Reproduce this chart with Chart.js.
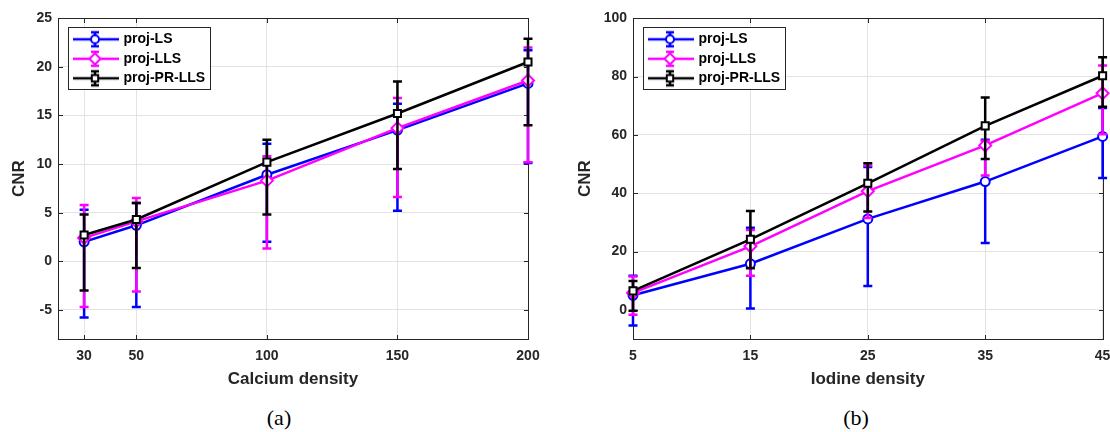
<!DOCTYPE html>
<html>
<head>
<meta charset="utf-8">
<script src="https://cdn.jsdelivr.net/npm/chart.js@4.4.0/dist/chart.umd.min.js"></script>
<style>
html,body{margin:0;padding:0;background:#fff;overflow:hidden;width:1110px;height:432px;}
canvas{position:absolute;top:0;}
.cap{position:absolute;top:405px;line-height:26px;font-family:'Liberation Serif','DejaVu Serif',serif;font-size:22px;color:#000;transform:translateX(-50%);}
</style>
</head>
<body>
<canvas id="chartA" width="555" height="400" style="left:0"></canvas>
<canvas id="chartB" width="565" height="400" style="left:555px"></canvas>
<div class="cap" style="left:279px">(a)</div>
<div class="cap" style="left:856px">(b)</div>
<script>
// series shared by both panels
var seriesNames=['proj-LS','proj-LLS','proj-PR-LLS'];
var seriesColors=['#0000ff','#ff00ff','#000000'];
var markerStyles=['circle','rectRot','rect'];
var markerRadius=[4.5,6,5];

// (a) calcium
var calciumX=[30,50,100,150,200];
var calciumTicksX=[30,50,100,150,200];
var calciumTicksY=[-5,0,5,10,15,20,25];
var calLS=[2.0,3.7,8.9,13.5,18.3];
var calLSLow=[-5.8,-4.7,2.0,5.2,10.1];
var calLSHigh=[5.3,6.0,12.1,16.2,21.7];
var calLLS=[2.4,4.1,8.3,13.7,18.6];
var calLLSLow=[-4.7,-3.1,1.3,6.6,10.2];
var calLLSHigh=[5.8,6.5,10.8,16.8,22.0];
var calPR=[2.7,4.3,10.2,15.2,20.5];
var calPRLow=[-3.0,-0.7,4.8,9.5,14.0];
var calPRHigh=[4.8,6.0,12.5,18.5,22.9];

// (b) iodine
var iodineX=[5,15,25,35,45];
var iodineTicksX=[5,15,25,35,45];
var iodineTicksY=[0,20,40,60,80,100];
var iodLS=[5.0,15.8,31.2,44.0,59.5];
var iodLSLow=[-5.4,0.5,8.2,22.9,45.2];
var iodLSHigh=[11.7,28.2,49.0,58.3,69.2];
var iodLLS=[5.8,21.8,40.7,56.4,74.3];
var iodLLSLow=[-1.7,11.7,31.5,46.1,60.2];
var iodLLSHigh=[11.4,27.4,49.5,58.0,83.8];
var iodPR=[6.5,24.2,43.4,63.1,80.3];
var iodPRLow=[-0.3,14.3,33.7,51.7,69.7];
var iodPRHigh=[9.9,33.9,50.3,72.8,86.6];

var textColor='#262626';
var gridColor='#e3e3e3';
var fontFamily="'Liberation Sans', Arial, sans-serif";
var lineW=2.5;
Chart.defaults.font.family=fontFamily;

// legend glyph: line + error bar + marker
function makeIcon(s)
{
    var c=document.createElement('canvas');
    c.width=60; c.height=20;
    var g=c.getContext('2d');
    g.strokeStyle=seriesColors[s];
    g.lineWidth=lineW;
    g.beginPath(); g.moveTo(13,10); g.lineTo(59,10); g.stroke();
    g.beginPath();
    g.moveTo(35,3); g.lineTo(35,17);
    g.moveTo(31,3); g.lineTo(39,3);
    g.moveTo(31,17); g.lineTo(39,17);
    g.stroke();
    g.fillStyle='#fff';
    g.lineWidth=2;
    Chart.helpers.drawPoint(g,{pointStyle:markerStyles[s],radius:markerRadius[s]-0.5,borderWidth:2,rotation:0},35,10);
    return c;
}
var legendIcons=[makeIcon(0),makeIcon(1),makeIcon(2)];

var errorBars={
    id:'errorBars',
    beforeDatasetDraw:function(chart,args){
        var ds=chart.data.datasets[args.index];
        var y=chart.scales.y;
        var ctx=chart.ctx;
        ctx.save();
        ctx.strokeStyle=ds.borderColor;
        ctx.lineWidth=lineW;
        args.meta.data.forEach(function(pt,i){
            var top=y.getPixelForValue(ds.errHigh[i]);
            var bot=y.getPixelForValue(ds.errLow[i]);
            ctx.beginPath();
            ctx.moveTo(pt.x,top); ctx.lineTo(pt.x,bot);
            ctx.moveTo(pt.x-4.5,top); ctx.lineTo(pt.x+4.5,top);
            ctx.moveTo(pt.x-4.5,bot); ctx.lineTo(pt.x+4.5,bot);
            ctx.stroke();
        });
        ctx.restore();
    }
};

var axesFrame={
    id:'axesFrame',
    beforeDatasetsDraw:function(chart){
        var a=chart.chartArea, ctx=chart.ctx, x=chart.scales.x, y=chart.scales.y;
        var L=Math.round(a.left)+0.5, R=Math.round(a.right)+0.5, T=Math.round(a.top)+0.5, B=Math.round(a.bottom)+0.5;
        ctx.save();
        ctx.strokeStyle=textColor;
        ctx.lineWidth=1;
        ctx.strokeRect(L,T,R-L,B-T);
        ctx.beginPath();
        x.ticks.forEach(function(t){
            var px=Math.round(x.getPixelForValue(t.value))+0.5;
            ctx.moveTo(px,B); ctx.lineTo(px,B-4.5);
            ctx.moveTo(px,T); ctx.lineTo(px,T+4.5);
        });
        y.ticks.forEach(function(t){
            var py=Math.round(y.getPixelForValue(t.value))+0.5;
            ctx.moveTo(L,py); ctx.lineTo(L+4.5,py);
            ctx.moveTo(R,py); ctx.lineTo(R-4.5,py);
        });
        ctx.stroke();
        ctx.restore();
    }
};

var legendBox={
    id:'legendBox',
    afterDatasetsDraw:function(chart){
        var lg=chart.legend, a=chart.chartArea, ctx=chart.ctx;
        ctx.save();
        ctx.font='bold 14px '+fontFamily;
        var tw=0;
        lg.legendItems.forEach(function(it){ tw=Math.max(tw,ctx.measureText(it.text).width); });
        var left=Math.round(a.left+10)+0.5, top=Math.round(a.top+8.4)+0.5;
        var w=Math.round(tw+60.5), h=62;
        ctx.fillStyle='#fff';
        ctx.fillRect(left,top,w,h);
        ctx.strokeStyle=textColor;
        ctx.lineWidth=1;
        ctx.strokeRect(left,top,w,h);
        ctx.restore();
        lg.draw();
    }
};

function buildDatasets(xs,vals,lows,highs)
{
    return vals.map(function(v,s){
        return {
            label:seriesNames[s],
            data:xs.map(function(x,i){ return {x:x,y:v[i]}; }),
            errLow:lows[s],
            errHigh:highs[s],
            borderColor:seriesColors[s],
            backgroundColor:'#fff',
            borderWidth:lineW,
            pointStyle:markerStyles[s],
            pointRadius:markerRadius[s],
            pointBorderWidth:2,
            pointBackgroundColor:'#fff',
            pointBorderColor:seriesColors[s],
            tension:0,
            clip:false,
            order:2-s
        };
    });
}

function makeChart(id,datasets,cfg)
{
    return new Chart(id,{
        type:'line',
        data:{datasets:datasets},
        plugins:[errorBars,axesFrame,legendBox],
        options:{
            responsive:false,
            animation:false,
            events:[],
            layout:{padding:{left:0,top:18.3,right:cfg.padRight,bottom:0}},
            scales:{
                x:{
                    type:'linear',
                    min:cfg.xMin,max:cfg.xMax,
                    afterBuildTicks:function(s){ s.ticks=cfg.xTicks.map(function(v){ return {value:v}; }); },
                    afterFit:function(s){ s.height=61; },
                    grid:{color:gridColor,drawTicks:false,lineWidth:1},
                    border:{display:false},
                    ticks:{padding:9,color:textColor,font:{size:14,weight:'bold'}},
                    title:{display:true,text:cfg.xTitle,color:textColor,font:{size:17,weight:'bold'},padding:{top:0,bottom:10.5}}
                },
                y:{
                    type:'linear',
                    min:cfg.yMin,max:cfg.yMax,
                    afterBuildTicks:function(s){ s.ticks=cfg.yTicks.map(function(v){ return {value:v}; }); },
                    afterFit:function(s){ s.width=cfg.yWidth; },
                    grid:{color:gridColor,drawTicks:false,lineWidth:1},
                    border:{display:false},
                    ticks:{padding:6,color:textColor,font:{size:14,weight:'bold'}},
                    title:{display:true,text:'CNR',color:textColor,font:{size:17,weight:'bold'},padding:{top:cfg.yTitlePad,bottom:0}}
                }
            },
            plugins:{
                tooltip:{enabled:false},
                legend:{
                    position:'chartArea',
                    align:'start',
                    // legend rows start at the canvas top here, so the empty title pushes them down
                    title:{display:true,text:'',padding:{top:18.3,bottom:0},font:{size:8.5,lineHeight:1}},
                    labels:{
                        usePointStyle:true,
                        pointStyleWidth:53,
                        padding:5.5,
                        color:'#000',
                        font:{size:14,weight:'bold'},
                        sort:function(a,b){ return a.datasetIndex-b.datasetIndex; },
                        generateLabels:function(chart){
                            return Chart.defaults.plugins.legend.labels.generateLabels(chart).map(function(it){
                                it.pointStyle=legendIcons[it.datasetIndex];
                                return it;
                            });
                        }
                    }
                }
            }
        }
    });
}

makeChart('chartA',
    buildDatasets(calciumX,[calLS,calLLS,calPR],[calLSLow,calLLSLow,calPRLow],[calLSHigh,calLLSHigh,calPRHigh]),
    {xMin:20,xMax:200,xTicks:calciumTicksX,yMin:-8,yMax:25,yTicks:calciumTicksY,xTitle:'Calcium density',yWidth:58,yTitlePad:9.5,padRight:27});

makeChart('chartB',
    buildDatasets(iodineX,[iodLS,iodLLS,iodPR],[iodLSLow,iodLLSLow,iodPRLow],[iodLSHigh,iodLLSHigh,iodPRHigh]),
    {xMin:5,xMax:45,xTicks:iodineTicksX,yMin:-10,yMax:100,yTicks:iodineTicksY,xTitle:'Iodine density',yWidth:78,yTitlePad:19.8,padRight:17.4});
</script>
</body>
</html>
